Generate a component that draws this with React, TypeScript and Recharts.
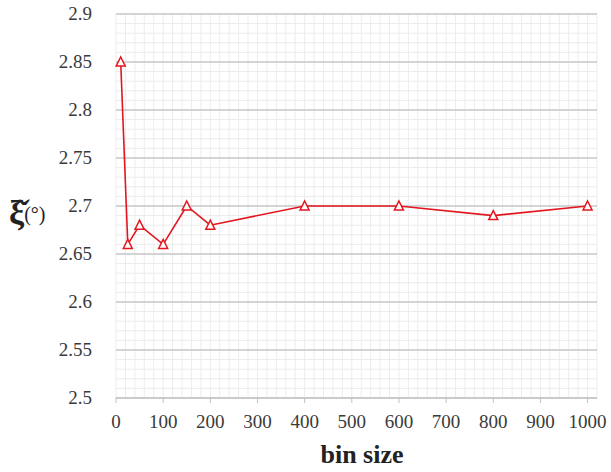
import React from 'react';
import { LineChart, Line, XAxis, YAxis, CartesianGrid, Label } from 'recharts';

const binSizes = [10, 25, 50, 100, 150, 200, 400, 600, 800, 1000];
const xiValues = [2.85, 2.66, 2.68, 2.66, 2.7, 2.68, 2.7, 2.7, 2.69, 2.7];
const xTicks = [0, 100, 200, 300, 400, 500, 600, 700, 800, 900, 1000];
const yTicks = [2.5, 2.55, 2.6, 2.65, 2.7, 2.75, 2.8, 2.85, 2.9];
const minorX = Array.from({ length: 52 }, (_, i) => i * 20);
const minorY = Array.from({ length: 41 }, (_, i) => +(2.5 + i * 0.01).toFixed(2));

const data = binSizes.map((b, i) => ({ bin: b, xi: xiValues[i] }));

const FONT = 'Liberation Serif';

const Tri = (props: any) => {
  const { cx, cy } = props;
  if (cx == null || cy == null) return null;
  const h = 8;
  const w = 9;
  return (
    <path
      d={`M${cx},${cy - h / 2 - 1} L${cx + w / 2},${cy + h / 2} L${cx - w / 2},${cy + h / 2} Z`}
      fill="#fff"
      stroke="#e3161f"
      strokeWidth={1.5}
    />
  );
};

const XTick = (props: any) => {
  const { x, y, payload } = props;
  return (
    <text x={x} y={y + 14} textAnchor="middle" fontFamily={FONT} fontSize={19} fill="#3a3a3a">
      {payload.value}
    </text>
  );
};

const YTick = (props: any) => {
  const { x, y, payload } = props;
  return (
    <text x={x} y={y + 6} textAnchor="end" fontFamily={FONT} fontSize={19} fill="#3a3a3a">
      {payload.value}
    </text>
  );
};

export default function App() {
  return (
    <div style={{ position: 'absolute', left: 0, top: 0, width: 611, height: 472, background: '#fff' }}>
      <LineChart width={611} height={472} data={data} margin={{ top: 14, right: 14, left: 0, bottom: 0 }}>
        <CartesianGrid
          stroke="#ececec"
          strokeWidth={1}
          verticalValues={minorX}
          horizontalValues={minorY}
        />
        <CartesianGrid stroke="#c9c9c9" strokeWidth={1.3} vertical={false} horizontalValues={yTicks} />
        <XAxis
          dataKey="bin"
          type="number"
          domain={[0, 1020]}
          ticks={xTicks}
          interval={0}
          height={74}
          tickSize={5}
          tickMargin={11}
          axisLine={{ stroke: '#c0c0c0' }}
          tickLine={{ stroke: '#c0c0c0' }}
          tick={<XTick />}
        >
          <Label
            content={() => (
              <text x={362} y={463} textAnchor="middle" fontFamily={FONT} fontSize={26} fontWeight="bold" fill="#222">
                bin size
              </text>
            )}
          />
        </XAxis>
        <YAxis
          type="number"
          domain={[2.5, 2.9]}
          ticks={yTicks}
          interval={0}
          width={116}
          axisLine={false}
          tickLine={false}
          tickMargin={18}
          tick={<YTick />}
        >
          <Label
            content={() => (
              <text x={9} y={224} fontFamily={FONT} fill="#222">
                <tspan fontSize={34} fontWeight="bold">ξ̌</tspan>
                <tspan fontSize={20} dy={-3}>(°)</tspan>
              </text>
            )}
          />
        </YAxis>
        <Line
          type="linear"
          dataKey="xi"
          stroke="#e3161f"
          strokeWidth={1.6}
          dot={<Tri />}
          activeDot={false}
          isAnimationActive={false}
        />
      </LineChart>
    </div>
  );
}
